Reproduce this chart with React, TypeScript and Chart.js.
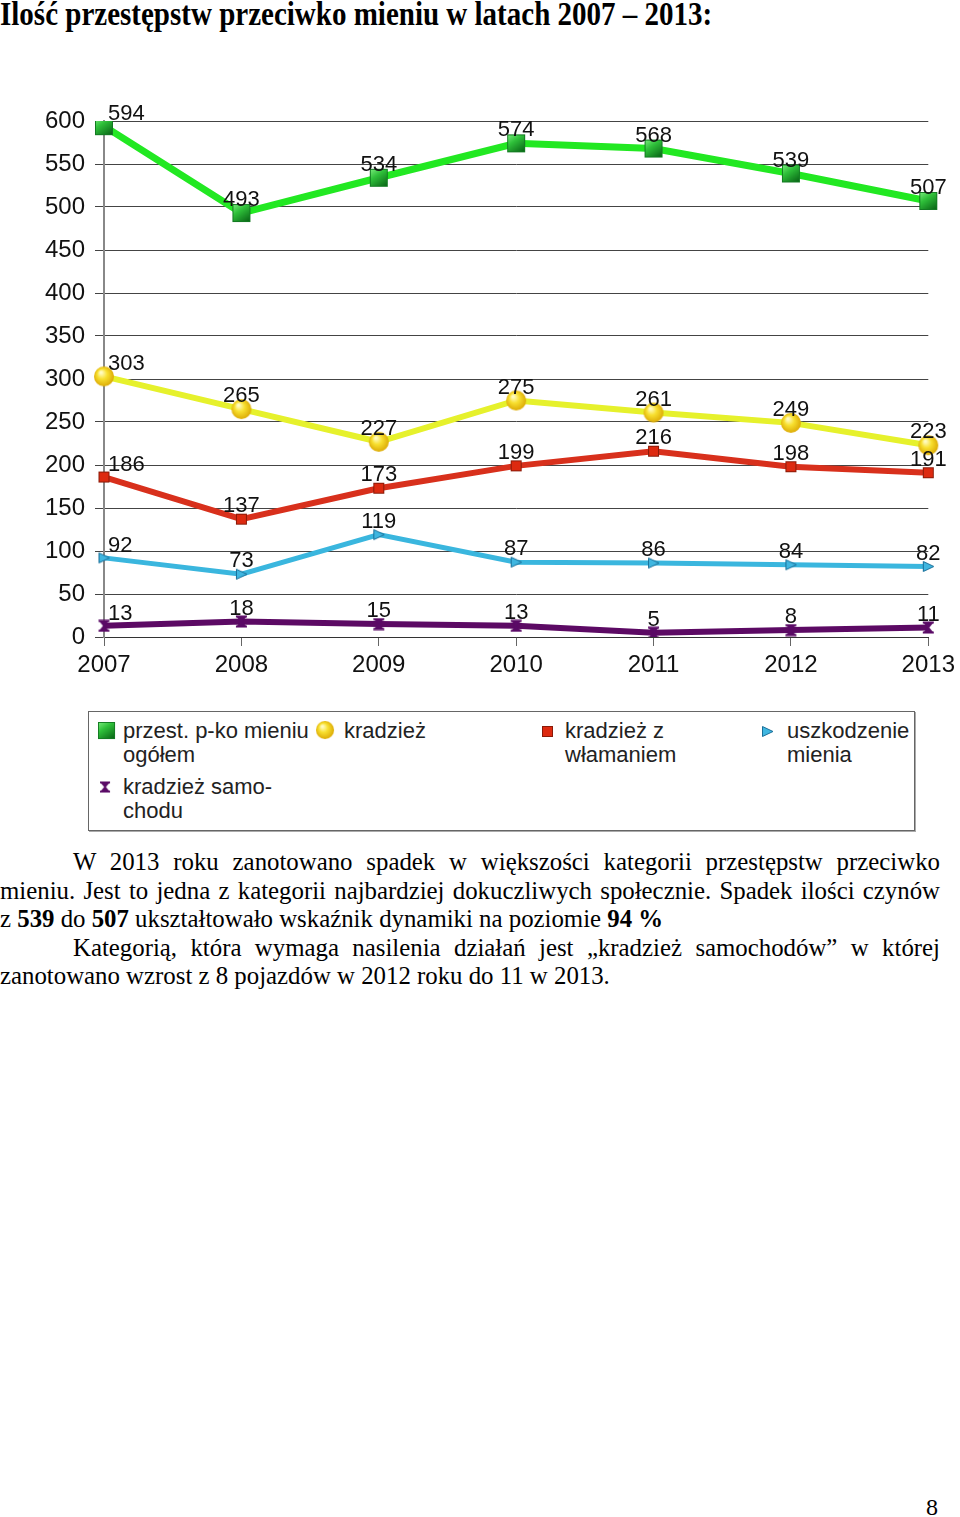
import React, { useEffect, useLayoutEffect, useMemo, useRef } from "react";
import { Chart, registerables } from "chart.js";

Chart.register(...registerables);

const YEARS = ["2007", "2008", "2009", "2010", "2011", "2012", "2013"];
const TOTAL = [594, 493, 534, 574, 568, 539, 507];
const THEFT = [303, 265, 227, 275, 261, 249, 223];
const BURGLARY = [186, 137, 173, 199, 216, 198, 191];
const DAMAGE = [92, 73, 119, 87, 86, 84, 82];
const CAR_THEFT = [13, 18, 15, 13, 5, 8, 11];
const Y_MIN = 0;
const Y_MAX = 600;
const Y_STEP = 50;

const LABEL_TOTAL = "przest. p-ko mieniu ogółem";
const LABEL_THEFT = "kradzież";
const LABEL_BURGLARY = "kradzież z włamaniem";
const LABEL_DAMAGE = "uszkodzenie mienia";
const LABEL_CAR = "kradzież samochodu";

const FONT = "'Liberation Sans', Arial, sans-serif";
const SERIF = "'Liberation Serif', 'Times New Roman', serif";

function mk(w: number, h: number, draw: (c: CanvasRenderingContext2D) => void) {
  const cv = document.createElement("canvas");
  cv.width = w;
  cv.height = h;
  const c = cv.getContext("2d")!;
  draw(c);
  return cv;
}

function makeMarkers() {
  const green = mk(20, 20, (c) => {
    const g = c.createLinearGradient(0, 0, 14, 20);
    g.addColorStop(0, "#8af58a");
    g.addColorStop(0.45, "#2fc03a");
    g.addColorStop(1, "#0b6a18");
    c.fillStyle = g;
    c.fillRect(1, 1, 18, 18);
    c.strokeStyle = "#137a22";
    c.lineWidth = 1;
    c.strokeRect(1.5, 1.5, 17, 17);
  });
  const yellow = mk(22, 22, (c) => {
    const g = c.createRadialGradient(8, 7, 1, 11, 11, 11);
    g.addColorStop(0, "#fffbc0");
    g.addColorStop(0.4, "#f8e030");
    g.addColorStop(1, "#d9a400");
    c.fillStyle = g;
    c.beginPath();
    c.arc(11, 11, 10, 0, Math.PI * 2);
    c.fill();
  });
  const red = mk(13, 13, (c) => {
    c.fillStyle = "#dd2a10";
    c.fillRect(1, 1, 11, 11);
    c.strokeStyle = "#8a1a08";
    c.lineWidth = 1;
    c.strokeRect(1.5, 1.5, 10, 10);
  });
  const blue = mk(13, 13, (c) => {
    c.fillStyle = "#3fb6e0";
    c.strokeStyle = "#1a6f99";
    c.lineWidth = 1;
    c.beginPath();
    c.moveTo(1.5, 1.5);
    c.lineTo(12, 6.5);
    c.lineTo(1.5, 11.5);
    c.closePath();
    c.fill();
    c.stroke();
  });
  const purple = mk(13, 13, (c) => {
    c.fillStyle = "#5a0a66";
    c.beginPath();
    c.moveTo(1, 1);
    c.lineTo(12, 1);
    c.lineTo(7.5, 6.5);
    c.lineTo(12, 12);
    c.lineTo(1, 12);
    c.lineTo(5.5, 6.5);
    c.closePath();
    c.fill();
    c.fillRect(1, 0.5, 11, 2);
    c.fillRect(1, 10.5, 11, 2);
  });
  return { green, yellow, red, blue, purple };
}

const valueLabels = {
  id: "valueLabels",
  afterDatasetsDraw(chart: any) {
    const ctx = chart.ctx;
    ctx.save();
    ctx.font = `22px ${FONT}`;
    ctx.fillStyle = "#111";
    ctx.textBaseline = "middle";
    chart.data.datasets.forEach((ds: any, di: number) => {
      const meta = chart.getDatasetMeta(di);
      meta.data.forEach((pt: any, i: number) => {
        const v = ds.data[i];
        if (i === 0) {
          ctx.textAlign = "left";
          ctx.fillText(String(v), pt.x + 4, pt.y - 12);
        } else {
          ctx.textAlign = "center";
          ctx.fillText(String(v), pt.x, pt.y - 13);
        }
      });
    });
    ctx.restore();
  },
};

export default function App() {
  const canvasRef = useRef<HTMLCanvasElement | null>(null);
  const titleRef = useRef<HTMLSpanElement | null>(null);
  const paraRef = useRef<HTMLDivElement | null>(null);
  const measureRef = useRef<HTMLSpanElement | null>(null);
  const markers = useMemo(() => makeMarkers(), []);
  const urls = useMemo(
    () => ({
      green: markers.green.toDataURL(),
      yellow: markers.yellow.toDataURL(),
      red: markers.red.toDataURL(),
      blue: markers.blue.toDataURL(),
      purple: markers.purple.toDataURL(),
    }),
    [markers]
  );

  useLayoutEffect(() => {
    document.body.style.margin = "0";
    if (titleRef.current) {
      const w = titleRef.current.offsetWidth;
      titleRef.current.style.transform = `scaleX(${712 / w})`;
    }
    if (paraRef.current && measureRef.current) {
      const w = measureRef.current.offsetWidth;
      const s = 610 / w;
      const p = paraRef.current;
      p.style.width = `${940 / s}px`;
      p.style.transform = `scaleX(${s})`;
      const first = p.querySelector("[data-indent]") as HTMLElement | null;
      if (first) first.style.paddingLeft = `${73 / s}px`;
      const second = p.querySelector("[data-indent2]") as HTMLElement | null;
      if (second) second.style.paddingLeft = `${73 / s}px`;
    }
  }, []);

  useEffect(() => {
    if (!canvasRef.current) return;
    const mkDs = (label: string, data: number[], color: string, width: number, pt: HTMLCanvasElement) => ({
      label,
      data,
      borderColor: color,
      backgroundColor: color,
      borderWidth: width,
      pointStyle: pt,
      pointRadius: 10,
      tension: 0,
    });
    const chart = new Chart(canvasRef.current, {
      type: "line",
      data: {
        labels: YEARS,
        datasets: [
          mkDs(LABEL_TOTAL, TOTAL, "#22e822", 7, markers.green),
          mkDs(LABEL_THEFT, THEFT, "#e6f12c", 6, markers.yellow),
          mkDs(LABEL_BURGLARY, BURGLARY, "#d8301c", 6, markers.red),
          mkDs(LABEL_DAMAGE, DAMAGE, "#3ab6de", 5, markers.blue),
          mkDs(LABEL_CAR, CAR_THEFT, "#5c0a64", 6, markers.purple),
        ] as any,
      },
      options: {
        animation: false,
        responsive: false,
        maintainAspectRatio: false,
        layout: { padding: { left: 0, right: 31, top: 31, bottom: 0 } },
        plugins: { legend: { display: false }, tooltip: { enabled: false } },
        scales: {
          x: {
            grid: { drawOnChartArea: false, drawTicks: true, tickLength: 9, color: "#666" },
            border: { display: true, color: "#333", width: 1 },
            ticks: { font: { family: FONT, size: 24 }, color: "#111", padding: 5, maxRotation: 0 },
            afterFit: (s: any) => {
              s.height = 63;
            },
          },
          y: {
            min: Y_MIN,
            max: Y_MAX,
            grid: { color: "#444", lineWidth: 1, tickLength: 9 },
            border: { display: true, color: "#888", width: 2 },
            ticks: { stepSize: Y_STEP, font: { family: FONT, size: 24 }, color: "#111", padding: 10 },
            afterFit: (s: any) => {
              s.width = 104;
            },
          },
        },
      } as any,
      plugins: [valueLabels],
    });
    return () => chart.destroy();
  }, [markers]);

  const legendText: React.CSSProperties = {
    position: "absolute",
    fontFamily: FONT,
    fontSize: 22,
    lineHeight: "24px",
    color: "#222",
    whiteSpace: "nowrap",
  };
  const img = (src: string, left: number, top: number, w: number, h: number) => (
    <img src={src} style={{ position: "absolute", left, top, width: w, height: h }} />
  );

  const lineStyle: React.CSSProperties = { height: 28.5, whiteSpace: "nowrap" };
  const justified: React.CSSProperties = {
    height: 28.5,
    textAlign: "justify",
    textAlignLast: "justify" as any,
    whiteSpace: "normal",
  };

  return (
    <div style={{ position: "relative", width: 960, height: 1517, background: "#fff", overflow: "hidden" }}>
      <div style={{ position: "absolute", left: 0, top: -3, whiteSpace: "nowrap" }}>
        <span
          ref={titleRef}
          style={{
            display: "inline-block",
            fontFamily: SERIF,
            fontWeight: "bold",
            fontSize: 33,
            lineHeight: "34px",
            color: "#000",
            transformOrigin: "0 0",
          }}
        >
          Ilość przestępstw przeciwko mieniu w latach 2007 – 2013:
        </span>
      </div>

      <canvas
        ref={canvasRef}
        width={960}
        height={610}
        style={{ position: "absolute", left: 0, top: 90, width: 960, height: 610 }}
      />

      <div
        style={{
          position: "absolute",
          left: 88,
          top: 711,
          width: 825,
          height: 118,
          border: "1px solid #666",
          boxShadow: "1px 1px 0 #aaa",
        }}
      />
      {img(urls.green, 97, 721, 19, 19)}
      <div style={{ ...legendText, left: 123, top: 719 }}>
        przest. p-ko mieniu
        <br />
        ogółem
      </div>
      {img(urls.yellow, 315, 720, 20, 20)}
      <div style={{ ...legendText, left: 344, top: 719 }}>kradzież</div>
      {img(urls.red, 541, 725, 13, 13)}
      <div style={{ ...legendText, left: 565, top: 719 }}>
        kradzież z
        <br />
        włamaniem
      </div>
      {img(urls.blue, 761, 725, 13, 13)}
      <div style={{ ...legendText, left: 787, top: 719 }}>
        uszkodzenie
        <br />
        mienia
      </div>
      {img(urls.purple, 99, 781, 12, 12)}
      <div style={{ ...legendText, left: 123, top: 775 }}>
        kradzież samo-
        <br />
        chodu
      </div>

      <div
        ref={paraRef}
        style={{
          position: "absolute",
          left: 0,
          top: 848,
          width: 940,
          fontFamily: SERIF,
          fontSize: 26,
          lineHeight: "28.5px",
          color: "#000",
          transformOrigin: "0 0",
        }}
      >
        <div data-indent="1" style={justified}>
          W 2013 roku zanotowano spadek w większości kategorii przestępstw przeciwko
        </div>
        <div style={justified}>
          mieniu. Jest to jedna z kategorii najbardziej dokuczliwych społecznie. Spadek ilości czynów
        </div>
        <div style={lineStyle}>
          z <b>539</b> do <b>507</b> ukształtowało wskaźnik dynamiki na poziomie <b>94 %</b>
        </div>
        <div data-indent2="1" style={justified}>
          Kategorią, która wymaga nasilenia działań jest „kradzież samochodów” w której
        </div>
        <div style={lineStyle}>
          <span ref={measureRef}>zanotowano wzrost z 8 pojazdów w 2012 roku do 11 w 2013.</span>
        </div>
      </div>

      <div
        style={{
          position: "absolute",
          left: 926,
          top: 1493,
          fontFamily: SERIF,
          fontSize: 24,
          lineHeight: "28px",
          color: "#000",
        }}
      >
        8
      </div>
    </div>
  );
}
